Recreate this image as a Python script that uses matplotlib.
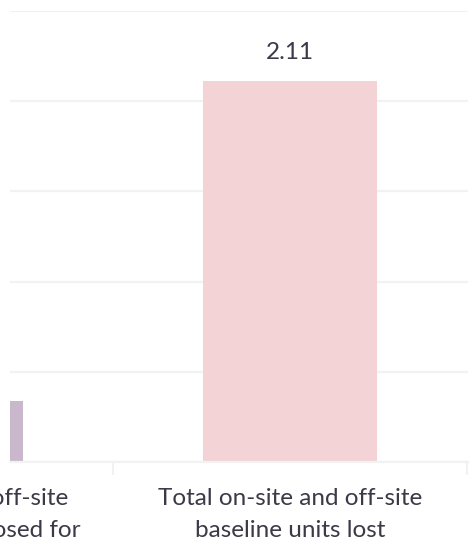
import matplotlib
matplotlib.use("Agg")
import matplotlib.pyplot as plt

categories = [
    "Total on-site and off-site\nbaseline units proposed for",
    "Total on-site and off-site\nbaseline units lost",
]
values = [0.34, 2.11]
bar_colors = ["#C9B8CC", "#F4D3D6"]
yticks = [0, 0.5, 1.0, 1.5, 2.0, 2.5]

TEXT = "#3A3A48"
GRID = "#F1F3F3"

plt.rcParams["font.family"] = ["Lato", "DejaVu Sans"]

W, H, DPI = 473, 550, 100
fig = plt.figure(figsize=(W / DPI, H / DPI), dpi=DPI)
fig.patch.set_facecolor("white")

# plot area in pixel units
left_px, right_px, top_px, bottom_px = 10, 468, 11, 462
ax = fig.add_axes([left_px / W, (H - bottom_px) / H,
                   (right_px - left_px) / W, (bottom_px - top_px) / H])

x = list(range(len(categories)))
bars = ax.bar(x, values, width=0.49, color=bar_colors, zorder=2)

# value labels above bars
for xi, v in zip(x, values):
    ax.annotate(f"{v:.2f}", (xi, v), xytext=(0, 13.5), textcoords="offset points",
                ha="center", va="bottom", fontsize=17.5, color=TEXT,
                annotation_clip=False)

# category labels under each bar (drawn as text so they stay visible
# even when the category centre sits outside the view)
for xi, lab in zip(x, categories):
    ax.annotate(lab, (xi, 0), xycoords=("data", "axes fraction"),
                xytext=(0, -19), textcoords="offset points",
                ha="center", va="top", fontsize=17.5, color=TEXT,
                linespacing=1.6, annotation_clip=False)

ax.set_yticks(yticks)
ax.yaxis.grid(True, color=GRID, linewidth=1.6, zorder=0)
ax.tick_params(axis="y", length=0, labelleft=False)

ax.set_xticks([0.5, 1.5])
ax.tick_params(axis="x", length=9, width=1.5, color=GRID, labelbottom=False)

ax.set_xlim(0.209, 1.503)
ax.set_ylim(0, 2.5)

for s in ["top", "right", "left"]:
    ax.spines[s].set_visible(False)
ax.spines["bottom"].set_color(GRID)
ax.spines["bottom"].set_linewidth(1.6)

fig.savefig("out.png", dpi=DPI, facecolor="white")
